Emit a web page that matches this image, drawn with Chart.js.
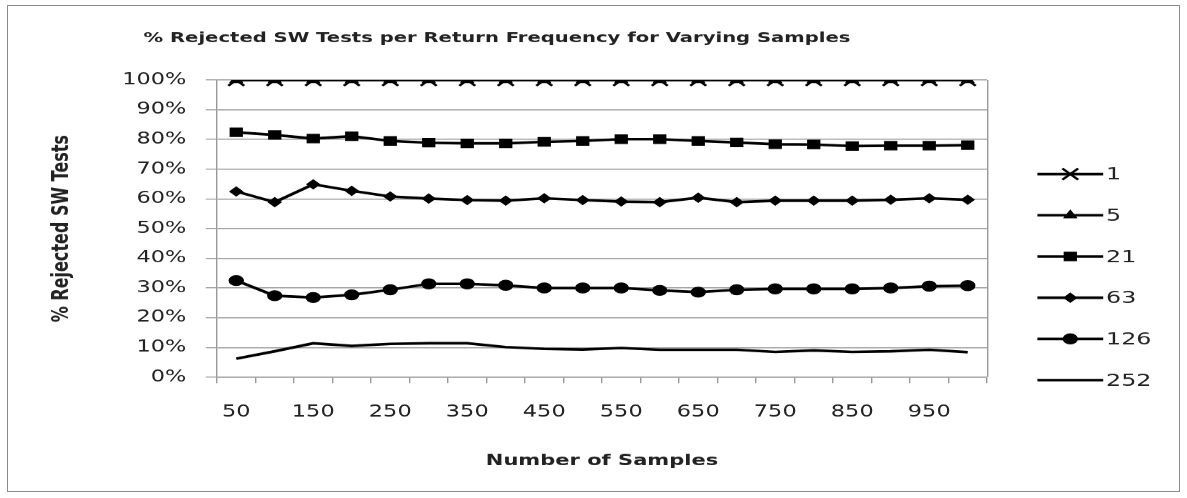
<!DOCTYPE html>
<html>
<head>
<meta charset="utf-8">
<title>% Rejected SW Tests per Return Frequency</title>
<script src="https://cdn.jsdelivr.net/npm/chart.js@4/dist/chart.umd.min.js"></script>
<style>
  html, body { margin: 0; padding: 0; background: #fff; }
  #frame { position: absolute; left: 7px; top: 5px; width: 1173px; height: 487px; border: 1px solid #8c8c8c; box-sizing: border-box; }
  #wrap { position: absolute; left: 0; top: 0; width: 848px; height: 498px; transform: scaleX(1.39976); transform-origin: 0 0; }
</style>
</head>
<body>
<div id="frame"></div>
<div id="wrap"><canvas id="grafico"></canvas></div>
<script>
const muestras = [50, 100, 150, 200, 250, 300, 350, 400, 450, 500, 550, 600, 650, 700, 750, 800, 850, 900, 950, 1000];

const serie1   = [100, 100, 100, 100, 100, 100, 100, 100, 100, 100, 100, 100, 100, 100, 100, 100, 100, 100, 100, 100];
const serie5   = [100, 100, 100, 100, 100, 100, 100, 100, 100, 100, 100, 100, 100, 100, 100, 100, 100, 100, 100, 100];
const serie21  = [82.4, 81.5, 80.3, 81.1, 79.5, 78.9, 78.7, 78.7, 79.2, 79.5, 80.1, 80.1, 79.5, 79.0, 78.4, 78.3, 77.8, 77.9, 77.9, 78.1];
const serie63  = [62.5, 58.9, 64.9, 62.7, 60.8, 60.1, 59.6, 59.4, 60.2, 59.6, 59.1, 58.9, 60.4, 58.9, 59.4, 59.4, 59.4, 59.7, 60.2, 59.7];
const serie126 = [32.5, 27.4, 26.8, 27.7, 29.4, 31.4, 31.4, 30.9, 30.0, 30.0, 30.0, 29.2, 28.6, 29.4, 29.7, 29.7, 29.7, 30.0, 30.6, 30.8];
const serie252 = [6.2, 8.7, 11.4, 10.5, 11.2, 11.4, 11.4, 10.1, 9.5, 9.3, 9.8, 9.2, 9.2, 9.2, 8.5, 9.0, 8.5, 8.7, 9.2, 8.4];

const nombres = ["1", "5", "21", "63", "126", "252"];
const yTicks = [0, 10, 20, 30, 40, 50, 60, 70, 80, 90, 100];

Chart.defaults.font.family = "'DejaVu Sans', Verdana, sans-serif";
Chart.defaults.color = "#222";

function serie(label, data, estilo, radio) {
    return {
        label: label,
        data: data,
        borderColor: "#000",
        backgroundColor: "#000",
        borderWidth: 2.6,
        pointStyle: estilo,
        pointRadius: radio,
        pointBorderWidth: estilo === "crossRot" ? 2 : 1,
        pointHoverRadius: radio,
        tension: 0
    };
}

// marco derecho del area de trazado
const bordeArea = {
    id: "bordeArea",
    beforeDatasetsDraw(chart) {
        const { ctx, chartArea } = chart;
        ctx.save();
        ctx.strokeStyle = "#999";
        ctx.lineWidth = 1;
        ctx.beginPath();
        ctx.moveTo(chartArea.right + 0.5, chartArea.top);
        ctx.lineTo(chartArea.right + 0.5, chartArea.bottom);
        ctx.stroke();
        ctx.restore();
    }
};

// leyenda estilo Excel: linea con marcador
const leyenda = {
    id: "leyenda",
    afterDraw(chart) {
        const ctx = chart.ctx;
        const x0 = chart.chartArea.right + 36;
        const x1 = x0 + 47;
        const yInicio = 174, paso = 41.2;
        chart.data.datasets.forEach((ds, i) => {
            const y = yInicio + i * paso;
            ctx.save();
            ctx.strokeStyle = ds.borderColor;
            ctx.fillStyle = ds.backgroundColor;
            ctx.lineWidth = ds.borderWidth;
            ctx.beginPath();
            ctx.moveTo(x0, y);
            ctx.lineTo(x1, y);
            ctx.stroke();
            if (ds.pointRadius > 0) {
                ctx.lineWidth = ds.pointBorderWidth;
                Chart.helpers.drawPoint(ctx, {
                    pointStyle: ds.pointStyle,
                    radius: ds.pointRadius,
                    borderWidth: ds.pointBorderWidth,
                    rotation: 0
                }, (x0 + x1) / 2, y);
            }
            ctx.fillStyle = "#222";
            ctx.font = "17px 'DejaVu Sans', Verdana, sans-serif";
            ctx.textAlign = "left";
            ctx.textBaseline = "middle";
            ctx.fillText(ds.label, x1 + 2, y + 1);
            ctx.restore();
        });
    }
};

new Chart(document.getElementById("grafico"), {
    type: "line",
    data: {
        labels: muestras,
        datasets: [
            serie(nombres[0], serie1, "crossRot", 8),
            serie(nombres[1], serie5, "triangle", 5),
            serie(nombres[2], serie21, "rect", 6),
            serie(nombres[3], serie63, "rectRot", 4.5),
            serie(nombres[4], serie126, "circle", 5),
            serie(nombres[5], serie252, "circle", 0)
        ]
    },
    options: {
        responsive: true,
        maintainAspectRatio: false,
        devicePixelRatio: 1.4,
        animation: false,
        layout: { padding: { left: 5, right: 143, top: 0, bottom: 0 } },
        plugins: {
            legend: { display: false },
            tooltip: { enabled: false },
            title: {
                display: true,
                text: "% Rejected SW Tests per Return Frequency for Varying Samples",
                font: { size: 14, weight: "bold" },
                color: "#222",
                padding: { top: 30, bottom: 33.2 }
            }
        },
        scales: {
            x: {
                type: "category",
                offset: true,
                afterFit: s => { s.height = 121; },
                grid: { drawOnChartArea: false, drawTicks: true, tickLength: 6, color: "#999", offset: true },
                border: { display: true, color: "#999" },
                ticks: {
                    autoSkip: false,
                    maxRotation: 0,
                    padding: 20,
                    font: { size: 16 },
                    callback: function (value, index) {
                        return index % 2 === 0 ? this.getLabelForValue(value) : "";
                    }
                },
                title: {
                    display: true,
                    text: "Number of Samples",
                    font: { size: 15, weight: "bold" },
                    color: "#222",
                    padding: { top: 0, bottom: 28 }
                }
            },
            y: {
                min: yTicks[0],
                max: yTicks[yTicks.length - 1],
                afterFit: s => { s.width = 150; },
                grid: { color: "#999", tickLength: 8, drawTicks: true },
                border: { display: true, color: "#999" },
                ticks: {
                    stepSize: 10,
                    padding: 14,
                    font: { size: 16 },
                    callback: v => v + "%"
                },
                title: {
                    display: true,
                    text: "% Rejected SW Tests",
                    font: { size: 16, weight: "bold" },
                    color: "#222",
                    padding: { top: 30, bottom: 0 }
                }
            }
        }
    },
    plugins: [bordeArea, leyenda]
});
</script>
</body>
</html>
